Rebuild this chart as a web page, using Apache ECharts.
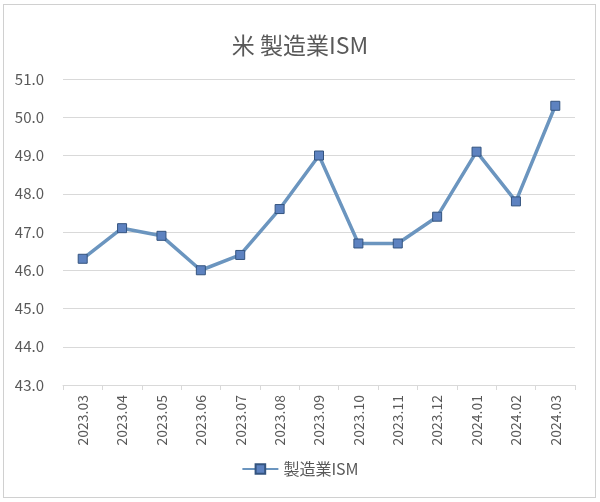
<!DOCTYPE html>
<html><head><meta charset="utf-8">
<script src="https://cdn.jsdelivr.net/npm/echarts@6/dist/echarts.min.js"></script>
<style>
html,body{margin:0;padding:0;background:#fff;}
#wrap{position:absolute;left:0;top:0;width:600px;height:502px;background:#fff;}
#frame{position:absolute;left:3px;top:4px;width:591px;height:492px;border:1px solid #d0d0d0;background:#fff;}
#c{position:absolute;left:0;top:0;width:600px;height:502px;}
</style></head>
<body>
<div id="wrap"><div id="frame"></div><div id="c"></div></div>
<script>
const titleText = '米 製造業ISM';
const seriesName = '製造業ISM';
const categories = ['2023.03','2023.04','2023.05','2023.06','2023.07','2023.08','2023.09','2023.10','2023.11','2023.12','2024.01','2024.02','2024.03'];
const values = [46.3, 47.1, 46.9, 46.0, 46.4, 47.6, 49.0, 46.7, 46.7, 47.4, 49.1, 47.8, 50.3];
const yMin = 43, yMax = 51, yStep = 1;

const font = '"Noto Sans CJK JP", "Noto Sans", sans-serif';
const chart = echarts.init(document.getElementById('c'), null, {renderer:'canvas'});
chart.setOption({
  animation: false,
  backgroundColor: 'transparent',
  title: {
    text: titleText, left: 'center', top: 29,
    textStyle: {fontFamily: font, fontSize: 23, fontWeight: 'normal', color: '#595959'}
  },
  legend: {
    data: [seriesName],
    bottom: 20, left: 'center',
    itemWidth: 36, itemHeight: 12, itemGap: 6,
    textStyle: {fontFamily: font, fontSize: 16, color: '#595959'}
  },
  grid: {left: 63, right: 25, top: 79, bottom: 117},
  xAxis: {
    type: 'category', data: categories, boundaryGap: true,
    axisLine: {lineStyle: {color: '#d9d9d9', width: 1}},
    axisTick: {show: true, length: 5, lineStyle: {color: '#d9d9d9'}},
    axisLabel: {rotate: 90, margin: 10, fontFamily: font, fontSize: 14, color: '#595959'}
  },
  yAxis: {
    type: 'value', min: yMin, max: yMax, interval: yStep,
    axisLine: {show: false}, axisTick: {show: false},
    splitLine: {lineStyle: {color: '#d9d9d9', width: 1}},
    axisLabel: {margin: 19, fontFamily: font, fontSize: 15, color: '#595959',
      formatter: v => v.toFixed(1)}
  },
  series: [{
    name: seriesName, type: 'line', data: values,
    symbol: 'rect', symbolSize: 9,
    lineStyle: {color: '#6b95bf', width: 3.5},
    itemStyle: {color: '#5d82c0', borderColor: '#34547f', borderWidth: 1}
  }]
});
</script>
</body></html>
